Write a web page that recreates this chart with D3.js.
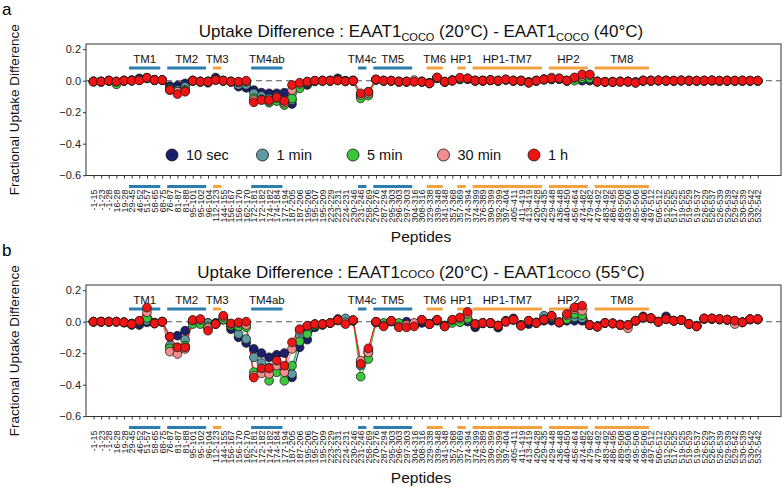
<!DOCTYPE html>
<html><head><meta charset="utf-8">
<script src="https://cdn.jsdelivr.net/npm/d3@7"></script>
<style>body{margin:0;background:#fff}svg{display:block;font-family:"Liberation Sans",Arial,sans-serif}</style>
</head><body><svg id="c" width="784" height="487"></svg>
<script>
// ---------- data ----------
const peptides = ["-1-15","-1-23","-1-28","16-28","19-28","29-45","46-52","51-57","58-65","68-75",
"76-87","81-87","81-88","95-101","95-102","96-104","112-123","144-155","156-167","156-170",
"162-170","172-181","172-182","174-182","174-184","177-194","187-205","187-206","195-206","195-207",
"195-209","223-229","223-231","224-231","230-246","231-246","258-269","270-276","287-294","295-303",
"296-303","297-303","304-316","308-316","329-338","339-348","341-348","357-368","357-369","374-394",
"374-399","376-389","390-399","392-399","397-404","405-411","411-419","413-419","420-428","429-435",
"429-448","436-448","440-450","456-464","474-482","479-482","479-492","483-492","486-495","489-508",
"493-506","495-506","496-506","497-512","505-512","512-525","517-525","519-525","519-529","519-537",
"526-529","526-537","526-539","529-539","529-542","530-539","530-542","532-542"];

const timePoints = ["10 sec","1 min","5 min","30 min","1 h"];
const timeColors = ["#1c1f6b","#5e9ba0","#3cc63c","#f28e8e","#f01414"];

// Panel a: 20°C - 40°C
const a_10sec = [-0.004,-0.004,0.002,-0.004,0.002,0.004,0.015,0.019,0.006,0.004,
-0.034,-0.032,-0.017,0.002,-0.004,-0.004,0.020,0.002,-0.004,-0.038,
-0.045,-0.060,-0.076,-0.080,-0.080,-0.076,-0.148,-0.034,-0.027,-0.004,
0.002,0.002,0.015,0.000,0.002,-0.090,-0.072,0.006,0.002,0.000,
-0.004,-0.004,-0.004,-0.004,-0.013,0.015,-0.008,0.004,0.008,0.010,
0.002,0.002,0.002,0.002,0.006,0.002,0.002,-0.008,0.002,0.008,
0.008,0.010,0.002,0.006,0.000,0.000,-0.004,-0.006,-0.006,-0.004,
-0.004,-0.008,0.002,0.002,0.002,0.002,0.000,0.002,0.002,0.000,
0.002,0.002,0.000,0.002,0.000,0.002,0.000,0.000];
const a_1min = [-0.004,-0.006,0.000,-0.008,0.000,0.002,0.008,0.015,0.004,0.004,
-0.048,-0.059,-0.038,0.000,-0.006,-0.013,0.010,0.000,-0.006,-0.027,
-0.027,-0.080,-0.097,-0.112,-0.100,-0.130,-0.123,-0.040,-0.015,-0.002,
0.000,0.000,0.006,-0.002,0.000,-0.100,-0.085,0.006,0.000,0.000,
-0.006,-0.006,-0.004,-0.006,-0.015,0.017,-0.006,0.002,0.012,0.012,
0.000,0.000,0.004,0.000,0.006,0.000,0.000,-0.010,0.000,0.008,
0.012,0.012,0.000,0.010,0.010,0.010,-0.006,-0.008,-0.006,-0.006,
-0.006,-0.010,0.000,0.000,0.000,0.000,0.000,0.000,0.000,0.000,
0.000,0.000,0.000,0.000,0.000,0.000,0.000,0.000];
const a_5min = [-0.006,-0.008,-0.002,-0.023,-0.002,0.000,0.004,0.015,0.002,0.002,
-0.053,-0.070,-0.059,-0.002,-0.008,-0.008,0.006,-0.002,-0.008,-0.010,
-0.006,-0.112,-0.118,-0.140,-0.129,-0.155,-0.112,-0.049,-0.010,-0.002,
-0.002,-0.002,0.002,-0.004,-0.002,-0.112,-0.095,0.006,-0.002,-0.002,
-0.008,-0.008,-0.006,-0.008,-0.017,0.017,-0.008,0.000,0.012,0.012,
-0.002,-0.002,0.002,-0.002,0.006,-0.002,-0.002,-0.012,-0.002,0.006,
0.010,0.010,-0.002,0.000,0.015,0.015,-0.006,-0.008,-0.008,-0.006,
-0.006,-0.012,-0.002,-0.002,0.000,-0.002,-0.002,0.000,-0.002,-0.002,
-0.002,0.000,-0.002,-0.002,-0.002,-0.002,-0.002,-0.002];
const a_30min = [-0.006,-0.006,0.000,-0.006,0.000,0.000,0.004,0.017,0.004,0.004,
-0.060,-0.070,-0.065,0.000,-0.006,-0.006,0.006,0.000,-0.006,-0.010,
-0.004,-0.123,-0.120,-0.130,-0.110,-0.140,-0.060,-0.020,-0.006,0.000,
0.000,0.000,0.004,-0.004,0.000,-0.090,-0.080,0.008,0.000,0.000,
-0.006,-0.006,0.004,-0.006,-0.017,0.019,-0.006,0.000,0.015,0.015,
0.000,0.000,0.004,0.000,0.008,0.000,0.000,-0.012,0.000,0.010,
0.020,0.015,0.000,0.017,0.030,0.035,-0.006,-0.008,-0.008,-0.006,
-0.006,-0.013,0.000,0.000,0.002,0.000,0.000,0.002,0.000,0.000,
0.000,0.002,0.000,0.000,0.000,0.000,0.000,0.000];
const a_1h = [-0.006,-0.006,0.000,-0.006,0.000,0.000,0.002,0.019,0.004,0.004,
-0.059,-0.085,-0.070,0.000,-0.006,-0.006,0.004,0.000,-0.006,-0.006,
0.000,-0.137,-0.123,-0.123,-0.106,-0.129,-0.027,-0.013,-0.006,0.000,
0.000,0.000,0.002,-0.004,0.000,-0.080,-0.070,0.008,0.000,0.000,
-0.006,-0.006,-0.006,-0.006,-0.017,0.021,-0.006,0.000,0.019,0.015,
0.000,0.000,0.004,0.000,0.008,0.000,0.000,-0.013,0.000,0.008,
0.015,0.015,0.000,0.021,0.040,0.040,-0.006,-0.008,-0.008,-0.006,
-0.006,-0.013,0.000,0.000,0.002,0.000,0.000,0.002,0.000,0.000,
0.000,0.002,0.000,0.000,0.000,0.000,0.000,0.000];

// Panel b: 20°C - 55°C
const b_10sec = [0.000,0.000,0.000,0.000,-0.006,-0.021,-0.021,-0.004,-0.006,0.000,
-0.095,-0.089,-0.057,-0.004,-0.004,-0.008,-0.008,0.013,-0.047,-0.099,
-0.135,-0.173,-0.199,-0.226,-0.210,-0.199,-0.353,-0.163,-0.114,-0.036,
-0.021,-0.008,0.017,-0.008,0.006,-0.258,-0.184,-0.004,-0.015,0.000,
-0.015,0.000,-0.015,-0.008,-0.015,0.006,-0.025,0.000,0.000,0.000,
-0.036,-0.011,-0.011,-0.038,0.006,0.021,-0.021,-0.015,-0.004,0.006,
0.006,-0.006,0.006,0.006,0.006,-0.021,-0.030,-0.008,-0.011,-0.017,
-0.025,0.006,0.034,0.021,0.000,0.034,0.006,0.011,-0.013,-0.025,
0.017,0.017,0.013,0.011,0.004,-0.004,0.013,0.013];
const b_1min = [0.000,0.000,0.000,0.000,-0.004,-0.011,-0.004,0.006,-0.008,0.000,
-0.152,-0.184,-0.114,0.000,-0.008,-0.008,-0.011,0.017,-0.021,-0.078,
-0.110,-0.226,-0.262,-0.290,-0.300,-0.320,-0.332,-0.089,-0.057,-0.021,
-0.015,-0.008,0.013,0.021,0.008,-0.279,-0.199,-0.004,-0.021,0.004,
-0.025,-0.025,-0.021,0.008,-0.013,0.011,-0.025,0.006,0.011,0.013,
-0.021,-0.008,-0.008,-0.025,0.004,0.013,-0.021,0.002,-0.006,0.038,
0.038,-0.004,0.013,0.027,0.021,-0.021,-0.030,-0.008,-0.011,-0.021,
-0.021,0.006,0.025,0.021,0.000,0.017,0.006,0.011,-0.013,-0.027,
0.019,0.019,0.015,0.013,0.006,-0.004,0.015,0.015];
const b_5min = [0.000,0.000,0.000,0.000,-0.004,-0.013,0.000,0.023,-0.011,0.000,
-0.169,-0.163,-0.152,-0.015,-0.015,-0.030,-0.013,0.013,-0.025,-0.030,
-0.036,-0.320,-0.317,-0.375,-0.321,-0.375,-0.279,-0.125,-0.078,-0.025,
-0.017,-0.008,0.008,-0.011,0.006,-0.349,-0.237,-0.004,-0.008,0.004,
-0.008,-0.025,-0.021,0.008,-0.013,0.011,-0.025,-0.008,-0.004,0.021,
-0.015,-0.008,-0.008,-0.025,0.000,0.011,-0.021,0.004,-0.008,0.011,
0.027,-0.004,0.017,0.049,0.042,-0.021,-0.030,-0.008,-0.011,-0.021,
-0.021,0.006,0.025,0.021,0.000,0.015,0.006,0.011,-0.015,-0.027,
0.019,0.019,0.015,0.013,0.006,-0.004,0.015,0.015];
const b_30min = [0.000,0.000,0.000,0.000,-0.004,-0.015,0.004,0.060,-0.011,0.000,
-0.190,-0.205,-0.173,0.008,0.011,-0.040,-0.015,0.030,-0.013,-0.008,
-0.021,-0.343,-0.328,-0.332,-0.279,-0.321,-0.173,-0.057,-0.030,-0.015,
-0.015,-0.008,0.008,-0.004,0.008,-0.247,-0.195,0.000,-0.025,0.004,
-0.030,-0.021,-0.008,0.011,-0.015,0.011,-0.030,0.011,0.021,0.050,
-0.015,-0.008,-0.008,-0.025,0.000,0.013,-0.025,0.006,-0.008,0.017,
0.034,-0.004,0.040,0.080,0.070,-0.021,-0.032,-0.008,-0.011,-0.021,
-0.042,0.006,0.027,0.023,0.000,0.017,0.006,0.011,-0.015,-0.030,
0.021,0.021,0.017,0.013,-0.015,-0.004,0.017,0.017];
const b_1h = [0.000,0.000,0.000,0.000,-0.004,-0.015,0.006,0.090,-0.011,0.000,
-0.095,-0.163,-0.163,0.011,0.017,-0.057,-0.015,0.038,-0.011,-0.004,
0.000,-0.355,-0.296,-0.296,-0.247,-0.279,-0.131,-0.047,-0.025,-0.015,
-0.015,-0.008,0.011,-0.015,0.011,-0.268,-0.169,0.000,-0.030,0.006,
-0.036,-0.036,-0.030,0.013,-0.015,0.013,-0.030,0.013,0.027,0.063,
-0.015,-0.008,-0.008,-0.025,0.000,0.013,-0.025,0.006,-0.008,0.013,
0.038,-0.004,0.049,0.091,0.102,-0.021,-0.032,-0.008,-0.011,-0.021,
-0.021,0.006,0.027,0.023,0.000,0.017,0.006,0.011,-0.015,-0.030,
0.021,0.021,0.017,0.013,0.006,-0.004,0.017,0.017];

// structural segments (first and last peptide covered)
const segNames = ["TM1","TM2","TM3","TM4ab","TM4c","TM5","TM6","HP1","HP1-TM7","HP2","TM8"];
const segStart = ["29-45","76-87","112-123","172-181","231-246","270-276","329-338","357-369","374-399","429-448","479-492"];
const segEnd   = ["58-65","95-102","112-123","174-184","231-246","297-303","339-348","357-369","420-428","474-482","496-506"];
const segKind  = ["tm","tm","hp","tm","tm","tm","hp","hp","hp","hp","hp"];

const yTickValues = [0.2, 0.0, -0.2, -0.4, -0.6];

// ---------- drawing ----------
const svg = d3.select("#c");
const FONT = '"Liberation Sans",Arial,sans-serif';
const segColor = {tm:"#2b7fae", hp:"#f4a23e"};

const x = d3.scalePoint().domain(peptides).range([93.5, 757.7]);
const step = x.step();
const left = 86, right = 781;

function drawPanel(oy, panelLetter, titleTemp, subSmallCaps, series, legend) {
  const g = svg.append("g").attr("transform", `translate(0,${oy})`);
  const y = d3.scaleLinear().domain([-0.6, 0.2]).range([175.2, 49.2]);
  const top = y(0.233), bottom = y(-0.602);

  // panel letter
  svg.append("text").attr("x", 2).attr("y", oy + 15).attr("font-size", 17).text(panelLetter);

  // title
  const t = g.append("text").attr("x", 421).attr("y", 37).attr("text-anchor", "middle")
    .attr("font-size", 17).attr("fill", "#111");
  t.append("tspan").text("Uptake Difference : EAAT1");
  if (subSmallCaps) {
    t.append("tspan").attr("font-size", 11.5).text("COCO");
    t.append("tspan").text(" (20°C) - EAAT1");
    t.append("tspan").attr("font-size", 11.5).text("COCO");
    t.append("tspan").text(" (" + titleTemp + ")");
  } else {
    t.append("tspan").attr("font-size", 11).attr("dy", 4).text("COCO");
    t.append("tspan").attr("dy", -4).text(" (20°C) - EAAT1");
    t.append("tspan").attr("font-size", 11).attr("dy", 4).text("COCO");
    t.append("tspan").attr("dy", -4).text(" (" + titleTemp + ")");
  }

  // frame
  g.append("rect").attr("x", left).attr("y", top).attr("width", right - left).attr("height", bottom - top)
    .attr("fill", "none").attr("stroke", "#333").attr("stroke-width", 1);

  // y axis
  const ya = g.append("g").attr("transform", `translate(${left},0)`)
    .call(d3.axisLeft(y).tickValues(yTickValues).tickFormat(d3.format(".1f")).tickSize(3).tickPadding(2));
  ya.select(".domain").remove();
  ya.selectAll("text").attr("font-size", 11).attr("font-family", FONT).attr("fill", "#222");
  ya.selectAll("line").attr("stroke", "#333");

  // y title
  g.append("text").attr("transform", `translate(19,${(top + bottom) / 2}) rotate(-90)`)
    .attr("text-anchor", "middle").attr("font-size", 13.5).attr("fill", "#111").text("Fractional Uptake Difference");

  // x axis
  const xa = g.append("g").attr("transform", `translate(0,${bottom})`)
    .call(d3.axisBottom(x).tickSize(3).tickPadding(2));
  xa.select(".domain").remove();
  xa.selectAll("line").attr("stroke", "#333");
  xa.selectAll("text").attr("font-size", 9).attr("font-family", FONT).attr("fill", "#222")
    .attr("text-anchor", "end").attr("dy", null)
    .attr("transform", "translate(0,14) rotate(-90)").attr("x", 0).attr("y", 0)
    .attr("dominant-baseline", "central");

  g.append("text").attr("x", 421).attr("y", 242).attr("text-anchor", "middle")
    .attr("font-size", 15.5).attr("fill", "#111").text("Peptides");

  // segment bars (above data and below the axis)
  segNames.forEach((nm, k) => {
    const x0 = x(segStart[k]) - 0.35 * step, x1 = x(segEnd[k]) + 0.75 * step;
    [68, bottom + 11].forEach(yy => {
      g.append("line").attr("x1", x0).attr("x2", x1).attr("y1", yy).attr("y2", yy)
        .attr("stroke", segColor[segKind[k]]).attr("stroke-width", 3);
    });
    g.append("text").attr("x", (x0 + x1) / 2).attr("y", 63).attr("text-anchor", "middle")
      .attr("font-size", 11.5).attr("fill", "#111").text(nm);
  });

  // zero line
  g.append("line").attr("x1", left).attr("x2", right).attr("y1", y(0)).attr("y2", y(0))
    .attr("stroke", "#555").attr("stroke-width", 1.1).attr("stroke-dasharray", "6,4");

  // series lines
  const line = d3.line().x((d, i) => x(peptides[i])).y(d => y(d));
  series.forEach((vals, s) => {
    g.append("path").datum(vals).attr("d", line).attr("fill", "none")
      .attr("stroke", timeColors[s]).attr("stroke-width", 1.1);
  });
  // points
  series.forEach((vals, s) => {
    g.append("g").selectAll("circle").data(vals).join("circle")
      .attr("cx", (d, i) => x(peptides[i])).attr("cy", d => y(d)).attr("r", 4.4)
      .attr("fill", timeColors[s]).attr("stroke", "#111").attr("stroke-width", 0.7);
  });

  // legend
  if (legend) {
    const lx = d3.scalePoint().domain(timePoints).range([172, 534]);
    timePoints.forEach((tp, s) => {
      g.append("circle").attr("cx", lx(tp)).attr("cy", 155).attr("r", 6)
        .attr("fill", timeColors[s]).attr("stroke", "#111").attr("stroke-width", 0.8);
      g.append("text").attr("x", lx(tp) + 14).attr("y", 160).attr("font-size", 14.5)
        .attr("fill", "#111").text(tp);
    });
  }
}

drawPanel(0, "a", "40°C", false, [a_10sec, a_1min, a_5min, a_30min, a_1h], true);
drawPanel(241, "b", "55°C", true, [b_10sec, b_1min, b_5min, b_30min, b_1h], false);
</script></body></html>
